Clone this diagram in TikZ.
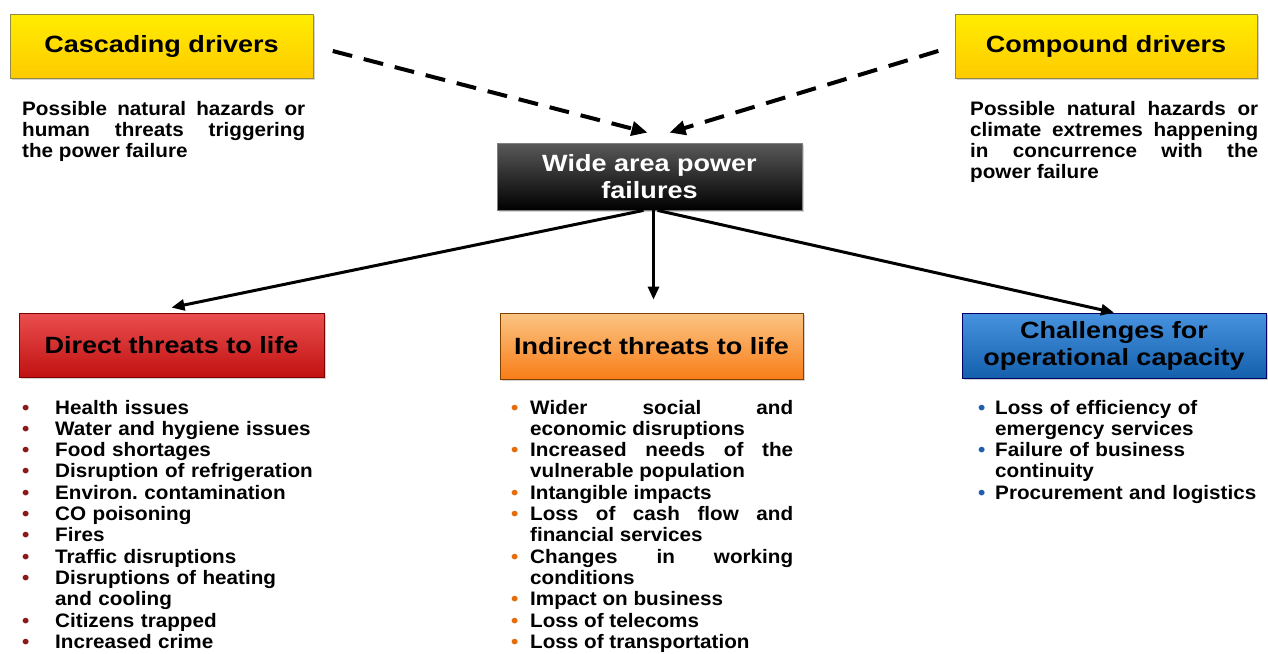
\documentclass[tikz,border=0pt]{standalone}
\usepackage{fontspec}
\setmainfont{Liberation Sans}[FakeStretch=1.15]
\newfontfamily\bodyfont{Liberation Sans}[FakeStretch=1.06]
\usepackage{xcolor}
\usetikzlibrary{arrows.meta,shadows}

\definecolor{drvyellow}{HTML}{FFD700}
\definecolor{drvred}{HTML}{E31414}
\definecolor{drvorange}{HTML}{F7941D}
\definecolor{drvblue}{HTML}{1A78D8}
\definecolor{bulred}{HTML}{8B1A1A}
\definecolor{bulorange}{HTML}{E46C0A}
\definecolor{bulblue}{HTML}{1F5FAD}

% one bullet line: colour, hanging indent
\newcommand{\itm}[2]{\hangindent=#2\hangafter=1\noindent\makebox[#2][l]{\textcolor{#1}{\textbullet}}}

\begin{document}
\begin{tikzpicture}[x=1pt,y=-1pt,
  box/.style={minimum height=64pt, inner sep=0pt, align=center, line width=0.8pt,
    font=\fontsize{23.5}{27}\selectfont\bfseries,
    drop shadow={shadow xshift=2pt,shadow yshift=-2pt,opacity=0.35}},
  yellowbox/.style={box, draw=yellow!50!black, top color=yellow!55!drvyellow, middle color=drvyellow, bottom color=drvyellow!85!orange},
  redbox/.style={box, draw=red!50!black, top color=drvred!75!white, middle color=drvred, bottom color=drvred!85!black},
  orangebox/.style={box, draw=orange!50!black, top color=drvorange!55!white, middle color=drvorange, bottom color=drvorange!85!red},
  bluebox/.style={box, draw=blue!40!black, top color=drvblue!80!white, middle color=drvblue, bottom color=drvblue!80!black},
  blackbox/.style={box, draw=gray, top color=gray!70!black, middle color=black, bottom color=black, text=white},
  bodytext/.style={inner sep=0pt, anchor=base west, font=\bodyfont\fontsize{19.5}{21.3}\selectfont\bfseries\frenchspacing},
  dasharrow/.style={line width=4pt, dash pattern=on 20pt off 12pt, -{Triangle[length=16pt,width=14pt]}},
  solidarrow/.style={line width=3pt, -{Triangle[length=13pt,width=11pt]}}]

\useasboundingbox[fill=white] (0,0) rectangle (1268,653);

% drivers
\node[yellowbox, minimum width=303pt] (casc) at (161.5,46) {Cascading drivers};
\node[yellowbox, minimum width=302pt] (comp) at (1106,46) {Compound drivers};
\node[bodytext, text width=283pt, align=justify] (casctext) at (22,115)
  {Possible natural hazards or\linebreak human threats triggering\linebreak the power failure};
\node[bodytext, text width=288pt, align=justify] (comptext) at (970,115)
  {Possible natural hazards or\linebreak climate extremes happening\linebreak in concurrence with the\linebreak power failure};

% the failure itself
\node[blackbox, minimum width=305pt, minimum height=67pt] (wide) at (649.5,176.5) {Wide area power\\failures};

% consequences
\node[redbox, minimum width=305pt] (direct) at (171.5,345) {Direct threats to life};
\node[orangebox, minimum width=303pt, minimum height=66pt] (indirect) at (651.5,346) {Indirect threats to life};
\node[bluebox, minimum width=304pt, minimum height=65pt] (chall) at (1114,345.5) {Challenges for\\operational capacity};

% lists
\node[bodytext, text width=320pt, align=left] (directlist) at (22,414)
  {\itm{bulred}{33pt}Health issues\par
   \itm{bulred}{33pt}Water and hygiene issues\par
   \itm{bulred}{33pt}Food shortages\par
   \itm{bulred}{33pt}Disruption of refrigeration\par
   \itm{bulred}{33pt}Environ. contamination\par
   \itm{bulred}{33pt}CO poisoning\par
   \itm{bulred}{33pt}Fires\par
   \itm{bulred}{33pt}Traffic disruptions\par
   \itm{bulred}{33pt}Disruptions of heating\newline and cooling\par
   \itm{bulred}{33pt}Citizens trapped\par
   \itm{bulred}{33pt}Increased crime};
\node[bodytext, text width=282pt, align=justify] (indirectlist) at (511,414)
  {\itm{bulorange}{19pt}Wider social and\linebreak economic disruptions\par
   \itm{bulorange}{19pt}Increased needs of the\linebreak vulnerable population\par
   \itm{bulorange}{19pt}Intangible impacts\par
   \itm{bulorange}{19pt}Loss of cash flow and\linebreak financial services\par
   \itm{bulorange}{19pt}Changes in working\linebreak conditions\par
   \itm{bulorange}{19pt}Impact on business\par
   \itm{bulorange}{19pt}Loss of telecoms\par
   \itm{bulorange}{19pt}Loss of transportation};
\node[bodytext, text width=295pt, align=left] (challlist) at (978,414)
  {\itm{bulblue}{17pt}Loss of efficiency of\newline emergency services\par
   \itm{bulblue}{17pt}Failure of business\newline continuity\par
   \itm{bulblue}{17pt}Procurement and logistics};

% dashed arrows into the failure
\draw[dasharrow, shorten <=20pt] (casc.east) -- ([xshift=-2pt,yshift=10pt]wide.north);
\draw[dasharrow, shorten <=17pt] (comp.west) -- ([xshift=20pt,yshift=10pt]wide.north);

% arrows out of it
\draw[solidarrow] ([xshift=-6pt]wide.south) -- ([yshift=5pt]direct.north);
\draw[solidarrow] ([xshift=4pt]wide.south) -- ([xshift=2pt,yshift=13pt]indirect.north);
\draw[solidarrow] ([xshift=8pt]wide.south) -- (chall.north);
\end{tikzpicture}
\end{document}
